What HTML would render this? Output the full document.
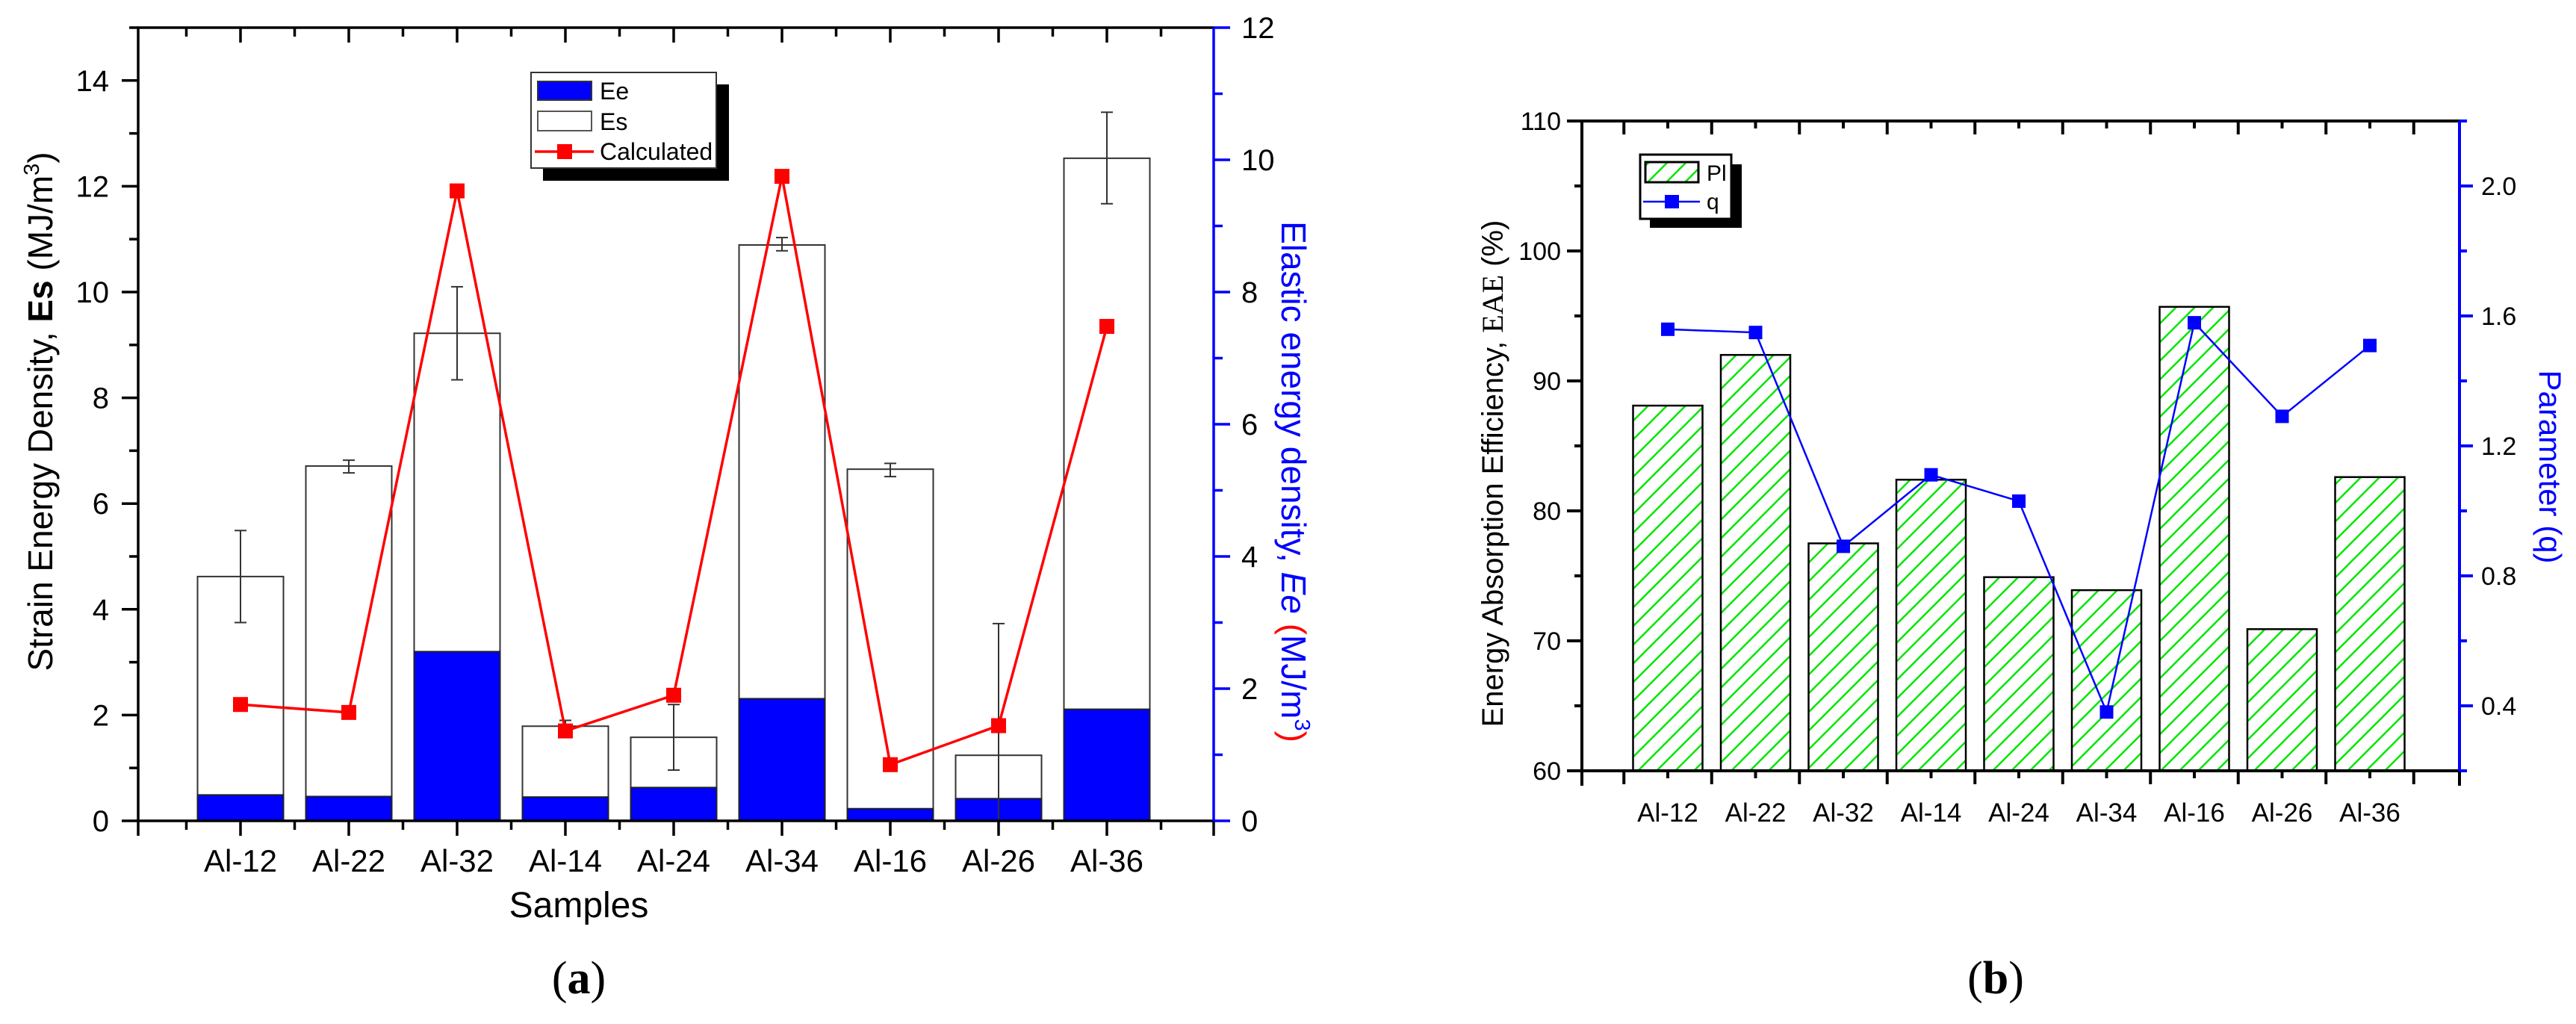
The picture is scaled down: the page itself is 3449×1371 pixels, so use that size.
<!DOCTYPE html>
<html><head><meta charset="utf-8"><style>
html,body{margin:0;padding:0;background:#fff;}
svg{display:block;font-family:"Liberation Sans",Arial,sans-serif;}
</style></head><body>
<svg id="fig" width="3449" height="1371" viewBox="0 0 3449 1371" xmlns="http://www.w3.org/2000/svg">
<defs>
<pattern id="hatch" patternUnits="userSpaceOnUse" width="25" height="25">
<path d="M-5,30 L30,-5 M-5,5 L5,-5 M20,30 L30,20" stroke="#00e600" stroke-width="2.5"/>
</pattern>
</defs>
<g id="ga"></g>
<g id="gb"></g>
</svg>
<script>
const categories = ["Al-12","Al-22","Al-32","Al-14","Al-24","Al-34","Al-16","Al-26","Al-36"];
const esValues = [4.62,6.71,9.22,1.79,1.58,10.89,6.65,1.24,12.53];
const eeValues = [0.49,0.46,3.20,0.45,0.63,2.31,0.23,0.42,2.11];
const errHigh = [5.49,6.82,10.10,1.90,2.20,11.03,6.76,3.73,13.40];
const errLow = [3.75,6.58,8.34,1.69,0.96,10.78,6.51,0.0,11.67];
const calcValues = [1.76,1.64,9.53,1.36,1.90,9.75,0.85,1.44,7.48];
const leftTicksA = [0,2,4,6,8,10,12,14];
const rightTicksA = [0,2,4,6,8,10,12];
const plValues = [88.1,92.0,77.5,82.4,74.9,73.9,95.7,70.9,82.6];
const qValues = [1.559,1.549,0.891,1.111,1.030,0.381,1.579,1.291,1.509];
const leftTicksB = [60,70,80,90,100,110];
const rightTicksB = [0.4,0.8,1.2,1.6,2.0];

const NS="http://www.w3.org/2000/svg";
function mk(parent,tag,attrs,text){const e=document.createElementNS(NS,tag);for(const k in attrs)e.setAttribute(k,attrs[k]);if(text!==undefined)e.textContent=text;parent.appendChild(e);return e;}
function lin(d0,d1,r0,r1){return v=>r0+(v-d0)*(r1-r0)/(d1-d0);}

// ---------- Chart A ----------
(function(){
const g=document.getElementById('ga');
const L=185,R=1625,T=37,B=1099;
const x=lin(0,8,322,1482); const bw=115;
const y=lin(0,15,B,T); const y2=lin(0,12,B,T);
categories.forEach((c,i)=>{
  const cx=x(i);
  let r=mk(g,'rect',{x:cx-bw/2,y:y(esValues[i]),width:bw,height:B-y(esValues[i]),fill:'#fff',stroke:'#333','stroke-width':2});
  
  
  r=mk(g,'rect',{x:cx-bw/2,y:y(eeValues[i]),width:bw,height:B-y(eeValues[i]),fill:'#0000ff',stroke:'#222','stroke-width':2});
  
  
});
categories.forEach((c,i)=>{
  const cx=x(i);
  const eg=mk(g,'g',{stroke:'#333','stroke-width':2});
  
  
  mk(eg,'line',{x1:cx,x2:cx,y1:y(errHigh[i]),y2:y(errLow[i])});
  mk(eg,'line',{x1:cx-8,x2:cx+8,y1:y(errHigh[i]),y2:y(errHigh[i])});
  if(errLow[i]>0) mk(eg,'line',{x1:cx-8,x2:cx+8,y1:y(errLow[i]),y2:y(errLow[i])});
});
const pts=calcValues.map((v,i)=>x(i)+','+y2(v)).join(' ');
const pl=mk(g,'polyline',{points:pts,fill:'none',stroke:'#ff0000','stroke-width':3.5});


calcValues.forEach((v,i)=>{
  const m=mk(g,'rect',{x:x(i)-10,y:y2(v)-10,width:20,height:20,fill:'#ff0000'});
  
  
});
const ax=mk(g,'g',{stroke:'#000','stroke-width':3.5,fill:'none'});


mk(ax,'line',{x1:L,x2:L,y1:T,y2:B});
mk(ax,'line',{x1:L-2,x2:R,y1:T,y2:T});
mk(ax,'line',{x1:L-2,x2:R,y1:B,y2:B});
const ra=mk(g,'line',{x1:R,x2:R,y1:T,y2:B,stroke:'#0000ff','stroke-width':3.5});


for(let i=-0.5;i<=8.5;i+=0.5){
  const px=x(i); const major=Number.isInteger(i);
  mk(ax,'line',{x1:px,x2:px,y1:B,y2:B+(major?20:12)});
  mk(ax,'line',{x1:px,x2:px,y1:T,y2:T+(major?20:12)});
}
mk(ax,'line',{x1:R,x2:R,y1:B,y2:B+20});
mk(ax,'line',{x1:L,x2:L,y1:B,y2:B+20});
for(let v=0;v<=15;v+=1){const py=y(v);mk(ax,'line',{x1:L,x2:L-(v%2==0?22:12),y1:py,y2:py});}
leftTicksA.forEach(v=>{const t=mk(g,'text',{x:146,y:y(v)+14,'text-anchor':'end','font-size':40,fill:'#000'},String(v));
  
  });
for(let v=0;v<=12;v+=1){const py=y2(v);mk(g,'line',{x1:R,x2:R+(v%2==0?22:12),y1:py,y2:py,stroke:'#0000ff','stroke-width':3.5});}
rightTicksA.forEach(v=>{const t=mk(g,'text',{x:1662,y:y2(v)+14,'font-size':40,fill:'#000'},String(v));
  
  });
categories.forEach((c,i)=>{const t=mk(g,'text',{x:x(i),y:1167,'text-anchor':'middle','font-size':42,fill:'#000'},c);
  
  });
})();

// ---------- Chart B ----------
(function(){
const g=document.getElementById('gb');
const L=2118,R=3293,T=162,B=1032;
const x=lin(0,8,2233,3173); const bw=93;
const y=lin(60,110,B,T); const y2=lin(0.2,2.2,B,T);
categories.forEach((c,i)=>{
  const cx=x(i);
  const r=mk(g,'rect',{x:cx-bw/2,y:y(plValues[i]),width:bw,height:B-y(plValues[i]),fill:'url(#hatch)',stroke:'#000','stroke-width':2.5});
  
  
});
const pts=qValues.map((v,i)=>x(i)+','+y2(v)).join(' ');
const pl=mk(g,'polyline',{points:pts,fill:'none',stroke:'#0000ff','stroke-width':2.5});


qValues.forEach((v,i)=>{
  const m=mk(g,'rect',{x:x(i)-9,y:y2(v)-9,width:18,height:18,fill:'#0000ff'});
  
  
});
const ax=mk(g,'g',{stroke:'#000','stroke-width':4,fill:'none'});


mk(ax,'line',{x1:L,x2:L,y1:T,y2:B+20});
mk(ax,'line',{x1:L-20,x2:R,y1:T,y2:T});
mk(ax,'line',{x1:L-20,x2:R,y1:B,y2:B});
mk(ax,'line',{x1:R,x2:R,y1:B,y2:B+20});
const ra=mk(g,'line',{x1:R,x2:R,y1:T,y2:B,stroke:'#0000ff','stroke-width':4});


for(let i=-0.5;i<=8.5;i+=0.5){
  const px=x(i);
  const big=(Math.round(i*2)%2!==0);
  mk(ax,'line',{x1:px,x2:px,y1:B,y2:B+(big?18:10)});
  mk(ax,'line',{x1:px,x2:px,y1:T,y2:T+(big?18:10)});
}
for(let v=60;v<=110;v+=5){const py=y(v);mk(ax,'line',{x1:L,x2:L-(v%10==0?20:10),y1:py,y2:py});}
leftTicksB.forEach(v=>{const t=mk(g,'text',{x:2090,y:y(v)+12,'text-anchor':'end','font-size':34,fill:'#000'},String(v));
  
  });
for(let k=1;k<=11;k++){const v=k*0.2;const py=y2(v);const big=(k%2===0);mk(g,'line',{x1:R,x2:R+(big?18:10),y1:py,y2:py,stroke:'#0000ff','stroke-width':4});}
rightTicksB.forEach(v=>{const t=mk(g,'text',{x:3322,y:y2(v)+12,'font-size':34,fill:'#000'},v.toFixed(1));
  
  });
categories.forEach((c,i)=>{const t=mk(g,'text',{x:x(i),y:1100,'text-anchor':'middle','font-size':35,fill:'#000'},c);
  
  });
})();
</script>
<script>
(function(){
const s=document.getElementById('fig');
s.insertAdjacentHTML('beforeend',`
<g>
<rect x="727" y="113" width="249" height="129" fill="#000"/>
<rect x="711" y="97" width="248" height="128" fill="#fff" stroke="#333" stroke-width="2"/>
<rect x="720" y="109" width="72" height="25" fill="#0000ff" stroke="#333" stroke-width="2"/>
<text x="803" y="133" font-size="32">Ee</text>
<rect x="720" y="149" width="72" height="26" fill="#fff" stroke="#555" stroke-width="2"/>
<text x="803" y="174" font-size="32">Es</text>
<line x1="716" y1="203" x2="795" y2="203" stroke="#ff0000" stroke-width="3.5"/>
<rect x="746" y="193" width="20" height="20" fill="#ff0000"/>
<text x="803" y="214" font-size="32">Calculated</text>
</g>
<text transform="translate(70,551) rotate(-90)" text-anchor="middle" font-size="46">Strain Energy Density, <tspan font-weight="bold">Es</tspan> (MJ/m<tspan font-size="29" dy="-18">3</tspan><tspan dy="18">)</tspan></text>
<text transform="translate(1716,645) rotate(90)" text-anchor="middle" font-size="46" fill="#0000ff">Elastic energy density, <tspan font-style="italic">Ee</tspan> <tspan fill="#ff0000">(</tspan>MJ/m<tspan font-size="29" dy="-18">3</tspan><tspan dy="18" fill="#ff0000">)</tspan></text>
<text x="775" y="1228" text-anchor="middle" font-size="48">Samples</text>
<text x="775" y="1330" text-anchor="middle" font-size="62" font-family="Liberation Serif, serif">(<tspan font-weight="bold">a</tspan>)</text>
<g>
<rect x="2209" y="220" width="123" height="85" fill="#000"/>
<rect x="2196" y="207" width="122" height="86" fill="#fff" stroke="#000" stroke-width="3"/>
<rect x="2203" y="217" width="71" height="27" fill="url(#hatch)" stroke="#000" stroke-width="3"/>
<text x="2285" y="242" font-size="30">Pl</text>
<line x1="2200" y1="270" x2="2276" y2="270" stroke="#0000ff" stroke-width="2.5"/>
<rect x="2229" y="261" width="19" height="18" fill="#0000ff"/>
<text x="2285" y="280" font-size="30">q</text>
</g>
<text transform="translate(2012,634) rotate(-90)" text-anchor="middle" font-size="40">Energy Absorption Efficiency, <tspan font-family="Liberation Serif, serif">EAE</tspan>  (%)</text>
<text transform="translate(3400,625) rotate(90)" text-anchor="middle" font-size="42" fill="#0000ff">Parameter (q)</text>
<text x="2672" y="1330" text-anchor="middle" font-size="62" font-family="Liberation Serif, serif">(<tspan font-weight="bold">b</tspan>)</text>
`);
})();
</script>
</body></html>
